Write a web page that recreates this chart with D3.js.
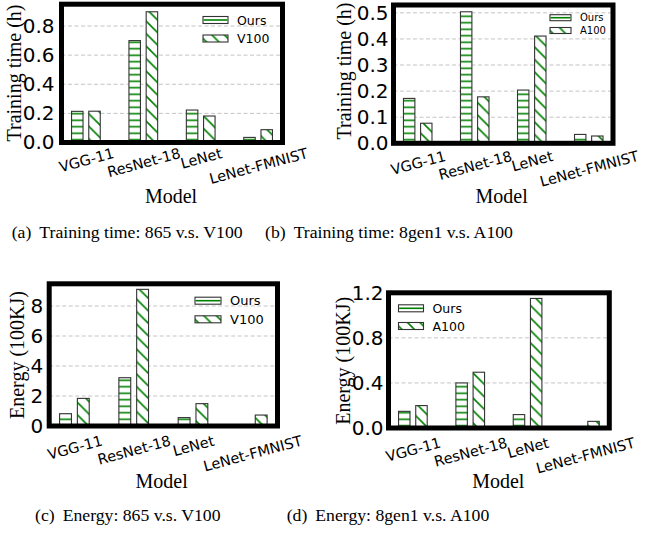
<!DOCTYPE html>
<html>
<head>
<meta charset="utf-8">
<script src="https://cdn.jsdelivr.net/npm/d3@7"></script>
<style>
  body { margin: 0; background: #fff; }
  svg { display: block; }
</style>
</head>
<body>
<div id="plot"></div>
<script>
// Chart data
const categories = ["VGG-11", "ResNet-18", "LeNet", "LeNet-FMNIST"];
const time865Ours = [0.214, 0.70, 0.223, 0.035];
const timeV100 = [0.215, 0.898, 0.182, 0.088];
const time8gen1Ours = [0.172, 0.504, 0.204, 0.034];
const timeA100 = [0.077, 0.178, 0.411, 0.028];
const energy865Ours = [0.82, 3.22, 0.56, 0.02];
const energyV100 = [1.84, 9.11, 1.49, 0.73];
const energy8gen1Ours = [0.148, 0.40, 0.119, 0.005];
const energyA100 = [0.199, 0.495, 1.15, 0.059];

const ticksA = [0, 0.2, 0.4, 0.6, 0.8];
const ticksB = [0, 0.1, 0.2, 0.3, 0.4, 0.5];
const ticksC = [0, 2, 4, 6, 8];
const ticksD = [0, 0.4, 0.8, 1.2];

const width = 652, height = 544;
const green = "#008000";

// Panel layout (frame box in pixels, label spots)
const panels = [
  { ours: time865Ours, other: timeV100, otherName: "V100", ymax: 0.95, ticks: ticksA, fmt: ".1f",
    ylabel: "Training time (h)", box: { l: 61.5, r: 282.5, t: 4.2, b: 142.5 },
    ylabelPos: [14, 73], xlabelPos: [171, 196], tickGap: 7, labelGap: 5,
    legend: { x: 203, y: 20, dy: 18.5, w: 25, h: 7, font: 12.5 },
    caption: ["(a)", "Training time: 865 v.s. V100"], capPos: [11.7, 238] },
  { ours: time8gen1Ours, other: timeA100, otherName: "A100", ymax: 0.53, ticks: ticksB, fmt: ".1f",
    ylabel: "Training time (h)", box: { l: 393.5, r: 613, t: 5, b: 143.3 },
    ylabelPos: [344.3, 71], xlabelPos: [501.7, 196], tickGap: 5, labelGap: 7,
    legend: { x: 550, y: 17.7, dy: 12.8, w: 21, h: 6, font: 10 },
    caption: ["(b)", "Training time: 8gen1 v.s. A100"], capPos: [265, 238] },
  { ours: energy865Ours, other: energyV100, otherName: "V100", ymax: 9.48, ticks: ticksC, fmt: "d",
    ylabel: "Energy (100KJ)", box: { l: 49.2, r: 277.5, t: 283.8, b: 426 },
    ylabelPos: [16.7, 355], xlabelPos: [161.7, 481], tickGap: 6, labelGap: 9,
    legend: { x: 195, y: 300.7, dy: 18.6, w: 26, h: 7, font: 13 },
    caption: ["(c)", "Energy: 865 v.s. V100"], capPos: [35, 521] },
  { ours: energy8gen1Ours, other: energyA100, otherName: "A100", ymax: 1.2, ticks: ticksD, fmt: ".1f",
    ylabel: "Energy (100KJ)", box: { l: 388.5, r: 609.3, t: 292.8, b: 428 },
    ylabelPos: [342.7, 360.8], xlabelPos: [498.3, 481], tickGap: 5, labelGap: 9,
    legend: { x: 398.5, y: 308.3, dy: 17.7, w: 25, h: 7, font: 12.5 },
    caption: ["(d)", "Energy: 8gen1 v.s. A100"], capPos: [286.7, 521] }
];

// Create SVG container
const svg = d3.select("#plot")
  .append("svg")
  .attr("width", width)
  .attr("height", height)
  .style("background", "#fff");

// Hatch patterns
const defs = svg.append("defs");
const hs = 6.5;
const hatchH = defs.append("pattern")
  .attr("id", "hatchH")
  .attr("patternUnits", "userSpaceOnUse")
  .attr("width", 10).attr("height", hs);
hatchH.append("rect").attr("width", 10).attr("height", hs).attr("fill", "#fff");
hatchH.append("line")
  .attr("x1", 0).attr("x2", 10).attr("y1", hs / 2).attr("y2", hs / 2)
  .attr("stroke", green).attr("stroke-width", 1.6);

const ds = 12.5;
const hatchD = defs.append("pattern")
  .attr("id", "hatchD")
  .attr("patternUnits", "userSpaceOnUse")
  .attr("width", ds).attr("height", ds);
hatchD.append("rect").attr("width", ds).attr("height", ds).attr("fill", "#fff");
hatchD.append("path")
  .attr("d", `M0,0L${ds},${ds}M-1,${ds - 1}L1,${ds + 1}M${ds - 1},-1L${ds + 1},1`)
  .attr("stroke", green).attr("stroke-width", 1.6);

const tickFont = "'DejaVu Sans', sans-serif";
const serifFont = "'Liberation Serif', 'Times New Roman', serif";
const angle = 15;

panels.forEach(p => {
  const g = svg.append("g");
  const { l, r, t, b } = p.box;

  // Scales
  const x0 = d3.scalePoint()
    .domain(categories)
    .range([l, r])
    .padding(0.425);
  const step = x0.step();
  const x1 = d3.scaleBand()
    .domain(["Ours", p.otherName])
    .range([-0.25 * step, 0.25 * step])
    .paddingInner(1 / 3);
  const y = d3.scaleLinear()
    .domain([0, p.ymax])
    .range([b, t]);

  // Grid lines
  g.append("g")
    .selectAll("line")
    .data(p.ticks.filter(v => v > 0 && y(v) > t + 3))
    .join("line")
    .attr("x1", l).attr("x2", r)
    .attr("y1", d => y(d)).attr("y2", d => y(d))
    .attr("stroke", "#c4c4c4")
    .attr("stroke-width", 1)
    .attr("stroke-dasharray", "4,2.5");

  // Bars
  const rows = categories.map((c, i) => [
    { cat: c, key: "Ours", value: p.ours[i] },
    { cat: c, key: p.otherName, value: p.other[i] }
  ]).flat();

  g.append("g")
    .selectAll("rect")
    .data(rows)
    .join("rect")
    .attr("x", d => x0(d.cat) + x1(d.key))
    .attr("y", d => y(d.value))
    .attr("width", x1.bandwidth())
    .attr("height", d => b - y(d.value))
    .attr("fill", d => d.key === "Ours" ? "url(#hatchH)" : "url(#hatchD)")
    .attr("stroke", "#333")
    .attr("stroke-width", 1.1);

  // Thick frame
  g.append("rect")
    .attr("x", l).attr("y", t)
    .attr("width", r - l).attr("height", b - t)
    .attr("fill", "none")
    .attr("stroke", "#000")
    .attr("stroke-width", 5);

  // Y axis
  const yAxis = g.append("g")
    .attr("transform", `translate(${l},0)`)
    .call(d3.axisLeft(y).tickValues(p.ticks).tickFormat(d3.format(p.fmt)).tickSize(0).tickPadding(p.tickGap));
  yAxis.select(".domain").remove();
  yAxis.selectAll("text")
    .style("font-family", tickFont)
    .style("font-size", "20px")
    .attr("fill", "#000");

  // X axis with rotated labels
  const xAxis = g.append("g")
    .attr("transform", `translate(0,${b})`)
    .call(d3.axisBottom(x0).tickSize(0));
  xAxis.select(".domain").remove();
  const rad = angle * Math.PI / 180;
  xAxis.selectAll("text")
    .style("font-family", tickFont)
    .style("font-size", "14.5px")
    .attr("fill", "#000")
    .attr("y", 0)
    .attr("dy", "0.35em")
    .each(function () {
      const L = this.getComputedTextLength();
      const off = p.labelGap + (L / 2) * Math.sin(rad) + 5.5 * Math.cos(rad);
      d3.select(this).attr("transform", `translate(0,${off}) rotate(${-angle})`);
    });

  // Axis labels
  g.append("text")
    .attr("transform", `translate(${p.ylabelPos[0]},${p.ylabelPos[1]}) rotate(-90)`)
    .attr("text-anchor", "middle")
    .attr("dominant-baseline", "central")
    .style("font-family", serifFont)
    .style("font-size", "20px")
    .text(p.ylabel);

  g.append("text")
    .attr("x", p.xlabelPos[0])
    .attr("y", p.xlabelPos[1])
    .attr("text-anchor", "middle")
    .attr("dominant-baseline", "central")
    .style("font-family", serifFont)
    .style("font-size", "20px")
    .text("Model");

  // Legend
  const lg = p.legend;
  const legend = g.append("g").attr("transform", `translate(${lg.x},${lg.y})`);
  const keys = ["Ours", p.otherName];
  keys.forEach((k, i) => {
    const row = legend.append("g").attr("transform", `translate(0,${i * lg.dy})`);
    row.append("rect")
      .attr("x", 0).attr("y", -lg.h / 2)
      .attr("width", lg.w).attr("height", lg.h)
      .attr("fill", i === 0 ? "#fff" : "url(#hatchD)")
      .attr("stroke", "#333")
      .attr("stroke-width", 1.1);
    if (i === 0) {
      row.append("line")
        .attr("x1", 0.6).attr("x2", lg.w - 0.6)
        .attr("y1", 0).attr("y2", 0)
        .attr("stroke", green).attr("stroke-width", 1.6);
    }
    row.append("text")
      .attr("x", lg.w + 9)
      .attr("y", 0)
      .attr("dominant-baseline", "central")
      .style("font-family", tickFont)
      .style("font-size", lg.font + "px")
      .text(k);
  });

  // Sub-caption
  const cap = svg.append("text")
    .attr("x", p.capPos[0])
    .attr("y", p.capPos[1])
    .style("font-family", serifFont)
    .style("font-size", "17.7px");
  cap.append("tspan").text(p.caption[0]);
  cap.append("tspan").attr("dx", 8).text(p.caption[1]);
});
</script>
</body>
</html>
